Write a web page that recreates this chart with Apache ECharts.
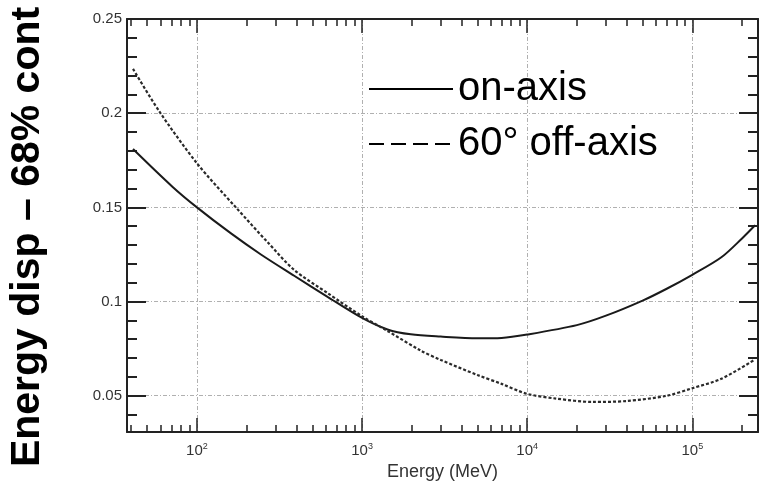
<!DOCTYPE html>
<html>
	<head>
		<meta charset="utf-8">
		<title></title>
		<script src="https://cdn.jsdelivr.net/npm/echarts@6/dist/echarts.min.js" type="text/javascript" charset="utf-8"></script>
		<style>
			html, body { margin: 0; padding: 0; background: #fff; }
		</style>
	</head>
	<body>
		<div id="mainChart" style="width: 759px;height:486px;"></div>
		<script type="text/javascript">
			// 数据
			var onAxisE = [41, 71, 100, 160, 244, 388, 618, 1000, 1426, 1973, 2990, 5000, 7000, 10000, 20000, 30000, 50000, 70000, 100000, 150000, 200000, 240000];
			var onAxisVal = [0.181, 0.161, 0.150, 0.1363, 0.125, 0.1137, 0.1025, 0.0913, 0.0852, 0.0826, 0.0814, 0.0805, 0.0807, 0.0825, 0.0875, 0.0925, 0.1005, 0.1068, 0.1142, 0.1235, 0.1335, 0.1405];
			var offAxisE = [41, 59, 100, 172, 268, 388, 618, 1000, 1426, 2265, 3000, 5000, 7000, 10000, 15000, 25000, 40000, 70000, 100000, 150000, 240000];
			var offAxisVal = [0.2235, 0.2011, 0.1734, 0.150, 0.1315, 0.1168, 0.1045, 0.0922, 0.0844, 0.074, 0.069, 0.061, 0.0563, 0.051, 0.0485, 0.0467, 0.0472, 0.050, 0.054, 0.059, 0.0693];
			var seriesNames = ['on-axis', '60° off-axis'];
			var yMajor = [0.05, 0.1, 0.15, 0.2, 0.25];
			var yMinor = [0.04, 0.06, 0.07, 0.08, 0.09, 0.11, 0.12, 0.13, 0.14, 0.16, 0.17, 0.18, 0.19, 0.21, 0.22, 0.23, 0.24];
			var xMinor = [40, 50, 60, 70, 80, 90, 200, 300, 400, 500, 600, 700, 800, 900,
				2000, 3000, 4000, 5000, 6000, 7000, 8000, 9000,
				20000, 30000, 40000, 50000, 60000, 70000, 80000, 90000, 200000];

			var X_MIN = 37.7, X_MAX = 250000;
			var Y_MIN = 0.0307, Y_MAX = 0.25;
			var FONT = 'Liberation Sans, Arial, sans-serif';

			function zip(xs, ys) {
				var out = [];
				for (var i = 0; i < xs.length; i++) {
					out.push([xs[i], ys[i]]);
				}
				return out;
			}

			var xMinorLog = xMinor.map(function(v) { return Math.log10(v); });

			var dom = document.getElementById("mainChart");
			var myChart = echarts.init(dom);

			var axisLine = { show: true, lineStyle: { color: '#222', width: 2 } };
			var gridLine = { show: true, lineStyle: { color: '#b0b0b0', width: 1, type: [4, 2, 1, 2] } };

			function xMajorAxis(pos, labels) {
				return {
					type: 'log', logBase: 10, position: pos, min: X_MIN, max: X_MAX,
					axisLine: axisLine,
					axisTick: { show: true, inside: true, length: 14, lineStyle: { color: '#222', width: 1.5 } },
					axisLabel: labels ? {
						show: true, margin: 10, showMinLabel: false, showMaxLabel: false,
						formatter: function(v) {
							var p = Math.log10(v);
							if (Math.abs(p - Math.round(p)) > 1e-6) return '';
							return '{b|10}{s|' + Math.round(p) + '}';
						},
						rich: {
							b: { fontSize: 15, color: '#333', fontFamily: FONT },
							s: { fontSize: 9, color: '#333', fontFamily: FONT, verticalAlign: 'top', padding: [0, 0, 8, 0] }
						}
					} : { show: false },
					splitLine: labels ? gridLine : { show: false },
					name: labels ? 'Energy (MeV)' : '',
					nameLocation: 'middle',
					nameGap: 27,
					nameTextStyle: { fontSize: 18, color: '#333', fontFamily: FONT }
				};
			}

			function xMinorAxis(pos) {
				return {
					type: 'value', position: pos, min: Math.log10(X_MIN), max: Math.log10(X_MAX),
					axisLine: { show: false },
					axisTick: { show: true, inside: true, length: 7, customValues: xMinorLog, lineStyle: { color: '#222', width: 1.5 } },
					axisLabel: { show: false },
					splitLine: { show: false }
				};
			}

			function yMajorAxis(pos, labels) {
				return {
					type: 'value', position: pos, min: Y_MIN, max: Y_MAX,
					axisLine: axisLine,
					axisTick: { show: true, inside: true, length: 19, customValues: yMajor, lineStyle: { color: '#222', width: 2 } },
					axisLabel: labels ? {
						show: true, customValues: yMajor, margin: 5,
						fontSize: 15, color: '#333', fontFamily: FONT,
						formatter: function(v) { return String(Math.round(v * 100) / 100); }
					} : { show: false },
					splitLine: labels ? gridLine : { show: false }
				};
			}

			function yMinorAxis(pos) {
				return {
					type: 'value', position: pos, min: Y_MIN, max: Y_MAX,
					axisLine: { show: false },
					axisTick: { show: true, inside: true, length: 10, customValues: yMinor, lineStyle: { color: '#222', width: 2 } },
					axisLabel: { show: false },
					splitLine: { show: false }
				};
			}

			var option = {
				backgroundColor: '#fff',
				animation: false,
				grid: { left: 127, right: 1, top: 19, bottom: 44, containLabel: false },
				legend: {
					orient: 'vertical', left: 363, top: 64,
					itemWidth: 84, itemHeight: 40, itemGap: 15,
					itemStyle: { opacity: 0, borderWidth: 0 },
					textStyle: { fontSize: 40, color: '#000', fontFamily: FONT },
					data: [
						{ name: seriesNames[0], itemStyle: { opacity: 0, borderWidth: 0 }, lineStyle: { type: 'solid', width: 2, color: '#000' } },
						{ name: seriesNames[1], itemStyle: { opacity: 0, borderWidth: 0 }, lineStyle: { type: [15, 7], width: 2, color: '#000' } }
					]
				},
				graphic: [{
					type: 'text',
					x: 28, y: 237, rotation: Math.PI / 2,
					style: {
						text: 'Energy disp – 68% cont',
						fontSize: 41, fontWeight: 'bold', fontFamily: FONT, fill: '#000',
						textAlign: 'center', textVerticalAlign: 'middle'
					}
				}],
				xAxis: [xMajorAxis('bottom', true), xMinorAxis('bottom'), xMajorAxis('top', false), xMinorAxis('top')],
				yAxis: [yMajorAxis('left', true), yMinorAxis('left'), yMajorAxis('right', false), yMinorAxis('right')],
				series: [{
					name: seriesNames[0], type: 'line', xAxisIndex: 0, yAxisIndex: 0,
					data: zip(onAxisE, onAxisVal), smooth: 0.3, symbol: 'none',
					lineStyle: { color: '#1a1a1a', width: 2 },
					itemStyle: { color: '#1a1a1a' }
				}, {
					name: seriesNames[1], type: 'line', xAxisIndex: 0, yAxisIndex: 0,
					data: zip(offAxisE, offAxisVal), smooth: 0.3, symbol: 'none',
					lineStyle: { color: '#2a2a2a', width: 2.2, type: [3, 2] },
					itemStyle: { color: '#2a2a2a' }
				}]
			};
			if (option && typeof option === "object") {
				myChart.setOption(option, true);
			}
		</script>
	</body>
</html>
